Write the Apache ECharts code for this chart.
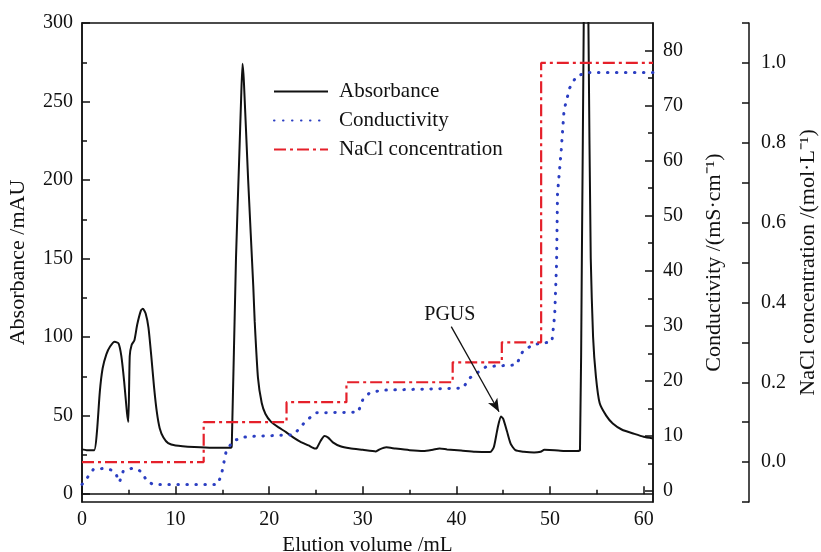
<!DOCTYPE html>
<html>
<head>
<meta charset="utf-8">
<script src="https://cdn.jsdelivr.net/npm/echarts@6/dist/echarts.min.js"></script>
<style>html,body{margin:0;padding:0;background:#fff}#c{width:821px;height:552px}</style>
</head>
<body>
<div id="c"></div>
<script>
// ---- data (elution volume mL, value) ----
const absorbance = [
  [0,28.5],[0.5,28],[1.3,28],[1.6,40],[1.9,65],[2.2,80],[2.6,89],[3.0,94],[3.5,97],[3.9,96],
  [4.2,88],[4.5,72],[4.8,52],[4.95,46],[5.1,88],[5.3,95],[5.6,98],[5.9,108],[6.3,117],[6.5,118],
  [6.8,115],[7.1,106],[7.4,88],[7.7,68],[8.0,52],[8.3,42],[8.7,36],[9.2,32.5],[10,31],[12,30],
  [14,29.5],[15.9,29.5],[16.0,31],[16.45,150],[16.8,215],[17.0,252],[17.15,274],[17.3,262],[17.75,200],
  [18.3,132],[18.45,110],[18.8,74],[19.2,58],[19.6,51],[20.2,46],[21.0,42.5],[21.8,39.5],[22.6,36],
  [23.3,33.5],[24.2,31],[24.9,29],[25.1,29.5],[25.5,34],[25.9,37],[26.3,36],[26.8,33],[27.6,30.5],
  [28.6,29.2],[30,28.2],[31.4,27.2],[31.8,28.5],[32.5,29.8],[33.5,29],[35,28],[36.5,27.5],[37.5,28.3],
  [38.2,29],[39,28.5],[40.5,27.8],[42,27],[43.6,26.8],[44.0,30],[44.4,42],[44.75,49.5],[45.0,48],
  [45.4,40],[45.8,32],[46.3,28],[47.2,27],[48.3,26.5],[49.0,27],[49.4,28.2],[50.5,28],[51.5,27.5],
  [52.9,27.5],[53.2,28],[53.4,150],[53.6,300],[53.85,520],[54.1,300],[54.35,150],[54.6,100],[54.9,75],
  [55.3,58],[56,50],[56.7,45],[57.7,41],[58.8,38.8],[60,36.5],[61,35.5]
];
const conductivity = [
  [0,1.2],[0.6,2.5],[1.2,3.9],[2.3,4.1],[3.2,3.8],[3.6,3.2],[4.0,1.6],[4.4,3.6],[5.3,4.1],[6.0,3.9],
  [6.5,3.2],[6.9,1.8],[7.6,1.2],[14.5,1.2],[14.9,3],[15.4,7.2],[16.1,9.0],[17.0,9.7],[17.9,9.9],
  [22.6,10.2],[23.3,11.5],[23.9,12.7],[25.0,14.2],[29.5,14.3],[30.0,16.6],[30.7,17.8],[32,18.3],
  [40.7,18.7],[41.4,20.5],[43.2,22.6],[46.4,22.9],[47.1,25.4],[48.2,26.6],[50.2,27.1],[50.5,32],
  [50.7,41.4],[50.8,54],[51.2,62],[51.5,69.2],[52.1,73.2],[52.8,75.3],[53.9,76],[61,76]
];
const nacl = [[0,0],[13,0.1],[21.85,0.15],[28.25,0.2],[39.6,0.25],[44.85,0.3],[49.05,1.0],[61,1.0]];

const xTicks = [0,10,20,30,40,50,60];
const xMinor = [5,15,25,35,45,55];
const absTicks = [0,50,100,150,200,250,300];
const absMinor = [25,75,125,175,225,275];
const condTicks = [0,10,20,30,40,50,60,70,80];
const condMinor = [5,15,25,35,45,55,65,75];
const naclTicks = [-0.1,0,0.1,0.2,0.3,0.4,0.5,0.6,0.7,0.8,0.9,1.0,1.1];
const naclLabels = [0,0.2,0.4,0.6,0.8,1.0];

const pgusLabel = [39.3, 114];
const pgusArrow = [[39.45,106.7],[44.55,52.5]];

const FONT = 'Liberation Serif';
const BLACK = '#111';
const BLUE = '#2b3ec2';
const RED = '#e5202a';
const line = {show:true, lineStyle:{color:BLACK, width:1.5}};
function hiddenMinor(extra){
  return Object.assign({type:'value', axisLine:{show:false}, axisLabel:{show:false}, splitLine:{show:false}}, extra);
}
const chart = echarts.init(document.getElementById('c'));
chart.setOption({
  animation:false,
  backgroundColor:'#fff',
  grid:{left:82,right:168,top:23,bottom:50,containLabel:false,outerBoundsMode:'none',
        show:true,borderColor:BLACK,borderWidth:1.5,backgroundColor:'transparent'},
  legend:{
    orient:'vertical', left:273, top:81, padding:0, itemWidth:54, itemHeight:14, itemGap:8,
    itemStyle:{opacity:0},
    textStyle:{fontFamily:FONT,fontSize:21,color:BLACK,padding:[0,0,0,6]},
    data:['Absorbance','Conductivity','NaCl concentration']
  },
  xAxis:[
    {type:'value',min:0,max:61,position:'bottom',axisLine:line,
     axisTick:{inside:true,length:8,customValues:xTicks,lineStyle:{color:BLACK,width:1.5}},
     axisLabel:{customValues:xTicks,fontFamily:FONT,fontSize:20,color:BLACK,margin:8},
     splitLine:{show:false},
     name:'Elution volume /mL',nameLocation:'middle',nameGap:28,
     nameTextStyle:{fontFamily:FONT,fontSize:21,color:BLACK}},
    hiddenMinor({min:0,max:61,position:'bottom',
     axisTick:{inside:true,length:4.5,customValues:xMinor,lineStyle:{color:BLACK,width:1.5}}})
  ],
  yAxis:[
    {type:'value',min:-5,max:300,position:'left',axisLine:line,
     axisTick:{inside:true,length:8,customValues:absTicks,lineStyle:{color:BLACK,width:1.5}},
     axisLabel:{customValues:absTicks,fontFamily:FONT,fontSize:20,color:BLACK,margin:9},
     splitLine:{show:false},
     name:'Absorbance /mAU',nameLocation:'middle',nameGap:53,nameRotate:90,
     nameTextStyle:{fontFamily:FONT,fontSize:22,color:BLACK}},
    hiddenMinor({min:-5,max:300,position:'left',
     axisTick:{inside:true,length:5,customValues:absMinor,lineStyle:{color:BLACK,width:1.5}}}),
    {type:'value',min:-2,max:85,position:'right',axisLine:line,
     axisTick:{inside:true,length:8,customValues:condTicks,lineStyle:{color:BLACK,width:1.5}},
     axisLabel:{customValues:condTicks,fontFamily:FONT,fontSize:20,color:BLACK,margin:10},
     splitLine:{show:false},
     name:'Conductivity /(mS·cm⁻¹)',nameLocation:'middle',nameGap:50,nameRotate:90,
     nameTextStyle:{fontFamily:FONT,fontSize:22,color:BLACK}},
    hiddenMinor({min:-2,max:85,position:'right',
     axisTick:{inside:true,length:5,customValues:condMinor,lineStyle:{color:BLACK,width:1.5}}}),
    {type:'value',min:-0.1,max:1.1,position:'right',offset:96,axisLine:line,
     axisTick:{inside:true,length:7,customValues:naclTicks,lineStyle:{color:BLACK,width:1.5}},
     axisLabel:{customValues:naclLabels,fontFamily:FONT,fontSize:20,color:BLACK,margin:12,
       formatter:v=>Number(v).toFixed(1)},
     splitLine:{show:false},
     name:'NaCl concentration /(mol·L⁻¹)',nameLocation:'middle',nameGap:46,nameRotate:90,
     nameTextStyle:{fontFamily:FONT,fontSize:22,color:BLACK}}
  ],
  series:[
    {name:'Absorbance',type:'line',xAxisIndex:0,yAxisIndex:0,data:absorbance,
     showSymbol:false,symbol:'none',clip:true,smooth:0.2,
     lineStyle:{color:BLACK,width:2},itemStyle:{color:BLACK},
     markLine:{silent:true,symbol:['none','arrow'],symbolSize:[8,13],
       lineStyle:{color:BLACK,width:1.3,type:'solid'},label:{show:false},
       data:[[{coord:pgusArrow[0]},{coord:pgusArrow[1]}]]},
     markPoint:{silent:true,symbol:'circle',symbolSize:1,itemStyle:{color:'rgba(0,0,0,0)'},
       label:{show:true,position:'inside',formatter:'PGUS',fontFamily:FONT,fontSize:20,color:BLACK},
       data:[{coord:pgusLabel}]}},
    {name:'Conductivity',type:'line',xAxisIndex:0,yAxisIndex:2,data:conductivity,
     showSymbol:false,symbol:'none',clip:true,
     lineStyle:{color:BLUE,width:3,type:[0.5,8.5],cap:'round'},itemStyle:{color:BLUE}},
    {name:'NaCl concentration',type:'line',xAxisIndex:0,yAxisIndex:4,data:nacl,step:'end',
     showSymbol:false,symbol:'none',clip:true,
     lineStyle:{color:RED,width:2.2,type:[12,4,3,4]},itemStyle:{color:RED}}
  ]
});
</script>
</body>
</html>
